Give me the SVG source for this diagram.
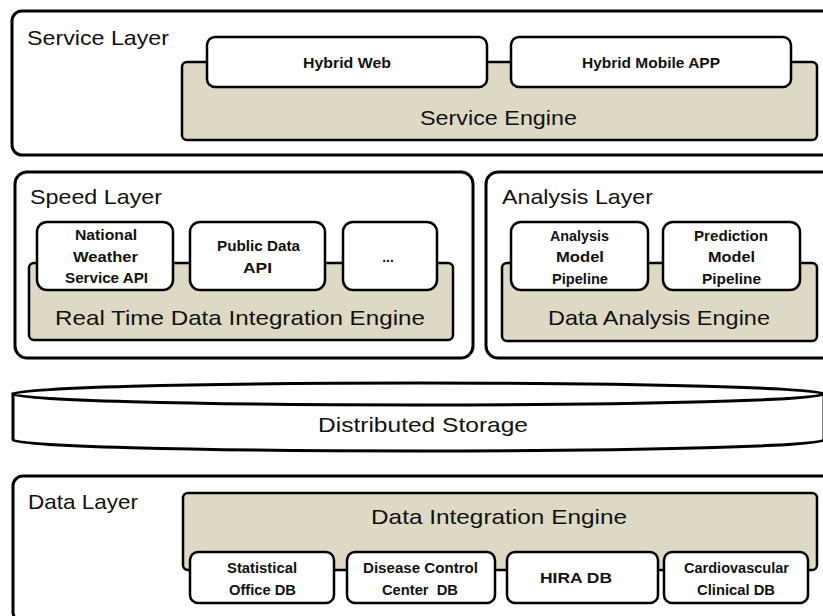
<svg xmlns="http://www.w3.org/2000/svg" width="823" height="616" viewBox="0 0 823 616">
  <style>
    .layer { fill: #ffffff; stroke: #000000; stroke-width: 3; }
    .engine { fill: #ddd9c4; stroke: #000000; stroke-width: 2.5; }
    .item { fill: #ffffff; stroke: #000000; stroke-width: 2.5; }
    .title { font-family: "Liberation Sans", Arial, sans-serif; font-size: 21px; fill: #111111; }
    .big { font-family: "Liberation Sans", Arial, sans-serif; font-size: 21px; fill: #111111; text-anchor: middle; }
    .lbl { font-family: "Liberation Sans", Arial, sans-serif; font-size: 14px; font-weight: bold; fill: #111111; text-anchor: middle; }
  </style>

  <!-- Service layer -->
  <g id="service-layer">
    <rect class="layer" x="12" y="11" width="830" height="144" rx="10"/>
    <text class="title" x="27" y="45" textLength="142" lengthAdjust="spacingAndGlyphs">Service Layer</text>
  </g>
  <g id="service-engine">
    <rect class="engine" x="182" y="62" width="635" height="78" rx="5"/>
    <text class="big" x="498.5" y="125" textLength="157" lengthAdjust="spacingAndGlyphs">Service Engine</text>
  </g>
  <g id="hybrid-web">
    <rect class="item" x="207" y="37" width="280" height="50" rx="8"/>
    <text class="lbl" x="347" y="68" textLength="88" lengthAdjust="spacingAndGlyphs">Hybrid Web</text>
  </g>
  <g id="hybrid-mobile-app">
    <rect class="item" x="511" y="37" width="280" height="50" rx="8"/>
    <text class="lbl" x="651" y="68" textLength="138" lengthAdjust="spacingAndGlyphs">Hybrid Mobile APP</text>
  </g>

  <!-- Speed layer -->
  <g id="speed-layer">
    <rect class="layer" x="15" y="172" width="458" height="186" rx="12"/>
    <text class="title" x="30" y="204" textLength="132" lengthAdjust="spacingAndGlyphs">Speed Layer</text>
  </g>
  <g id="realtime-engine">
    <rect class="engine" x="29" y="263" width="424" height="77" rx="5"/>
    <text class="big" x="240" y="325" textLength="370" lengthAdjust="spacingAndGlyphs">Real Time Data Integration Engine</text>
  </g>
  <g id="weather-api">
    <rect class="item" x="37" y="222" width="136" height="68" rx="10"/>
    <text class="lbl" x="106" y="240" textLength="62" lengthAdjust="spacingAndGlyphs">National</text>
    <text class="lbl" x="105.5" y="262" textLength="65" lengthAdjust="spacingAndGlyphs">Weather</text>
    <text class="lbl" x="106.5" y="283" textLength="83" lengthAdjust="spacingAndGlyphs">Service API</text>
  </g>
  <g id="public-data-api">
    <rect class="item" x="190" y="222" width="135" height="68" rx="10"/>
    <text class="lbl" x="258.5" y="251" textLength="83" lengthAdjust="spacingAndGlyphs">Public Data</text>
    <text class="lbl" x="257.5" y="273" textLength="29" lengthAdjust="spacingAndGlyphs">API</text>
  </g>
  <g id="more-sources">
    <rect class="item" x="343" y="222" width="94" height="68" rx="10"/>
    <text class="lbl" x="388" y="262">...</text>
  </g>

  <!-- Analysis layer -->
  <g id="analysis-layer">
    <rect class="layer" x="486" y="172" width="356" height="186" rx="12"/>
    <text class="title" x="502" y="204" textLength="151" lengthAdjust="spacingAndGlyphs">Analysis Layer</text>
  </g>
  <g id="analysis-engine">
    <rect class="engine" x="502" y="263" width="315" height="78" rx="5"/>
    <text class="big" x="659" y="325" textLength="222" lengthAdjust="spacingAndGlyphs">Data Analysis Engine</text>
  </g>
  <g id="analysis-model">
    <rect class="item" x="511" y="222" width="137" height="68" rx="10"/>
    <text class="lbl" x="579.5" y="241" textLength="59" lengthAdjust="spacingAndGlyphs">Analysis</text>
    <text class="lbl" x="580" y="262" textLength="48" lengthAdjust="spacingAndGlyphs">Model</text>
    <text class="lbl" x="580" y="284" textLength="56" lengthAdjust="spacingAndGlyphs">Pipeline</text>
  </g>
  <g id="prediction-model">
    <rect class="item" x="663" y="222" width="137" height="68" rx="10"/>
    <text class="lbl" x="731" y="241" textLength="74" lengthAdjust="spacingAndGlyphs">Prediction</text>
    <text class="lbl" x="731.5" y="262" textLength="47" lengthAdjust="spacingAndGlyphs">Model</text>
    <text class="lbl" x="731.5" y="284" textLength="59" lengthAdjust="spacingAndGlyphs">Pipeline</text>
  </g>

  <!-- Distributed storage cylinder -->
  <g id="distributed-storage">
    <path class="layer" d="M13,394 V440 A405.5,11 0 0 0 824,440 V394 Z"/>
    <ellipse class="layer" cx="418.5" cy="394" rx="405.5" ry="11"/>
    <text class="big" x="423" y="432" font-size="20" textLength="210" lengthAdjust="spacingAndGlyphs">Distributed Storage</text>
  </g>

  <!-- Data layer -->
  <g id="data-layer">
    <rect class="layer" x="13" y="476" width="830" height="146" rx="10"/>
    <text class="title" x="28" y="509" textLength="110" lengthAdjust="spacingAndGlyphs">Data Layer</text>
  </g>
  <g id="data-integration-engine">
    <rect class="engine" x="183" y="493" width="634" height="77" rx="5"/>
    <text class="big" x="499" y="524" textLength="256" lengthAdjust="spacingAndGlyphs">Data Integration Engine</text>
  </g>
  <g id="statistical-office-db">
    <rect class="item" x="190" y="552" width="144" height="51" rx="8"/>
    <text class="lbl" x="262" y="573" textLength="70" lengthAdjust="spacingAndGlyphs">Statistical</text>
    <text class="lbl" x="262.5" y="595" textLength="67" lengthAdjust="spacingAndGlyphs">Office DB</text>
  </g>
  <g id="disease-control-db">
    <rect class="item" x="347" y="552" width="148" height="51" rx="8"/>
    <text class="lbl" x="420.5" y="573" textLength="115" lengthAdjust="spacingAndGlyphs">Disease Control</text>
    <text class="lbl" x="420" y="595" textLength="76" lengthAdjust="spacingAndGlyphs" xml:space="preserve">Center  DB</text>
  </g>
  <g id="hira-db">
    <rect class="item" x="507" y="552" width="151" height="51" rx="8"/>
    <text class="lbl" x="576" y="583" textLength="72" lengthAdjust="spacingAndGlyphs">HIRA DB</text>
  </g>
  <g id="cardiovascular-db">
    <rect class="item" x="664" y="552" width="144" height="51" rx="8"/>
    <text class="lbl" x="736.5" y="573" textLength="105" lengthAdjust="spacingAndGlyphs">Cardiovascular</text>
    <text class="lbl" x="736" y="595" textLength="78" lengthAdjust="spacingAndGlyphs">Clinical DB</text>
  </g>

  <!-- connectors: none, components are stacked directly on their engines -->
  <g id="connectors"/>
</svg>
